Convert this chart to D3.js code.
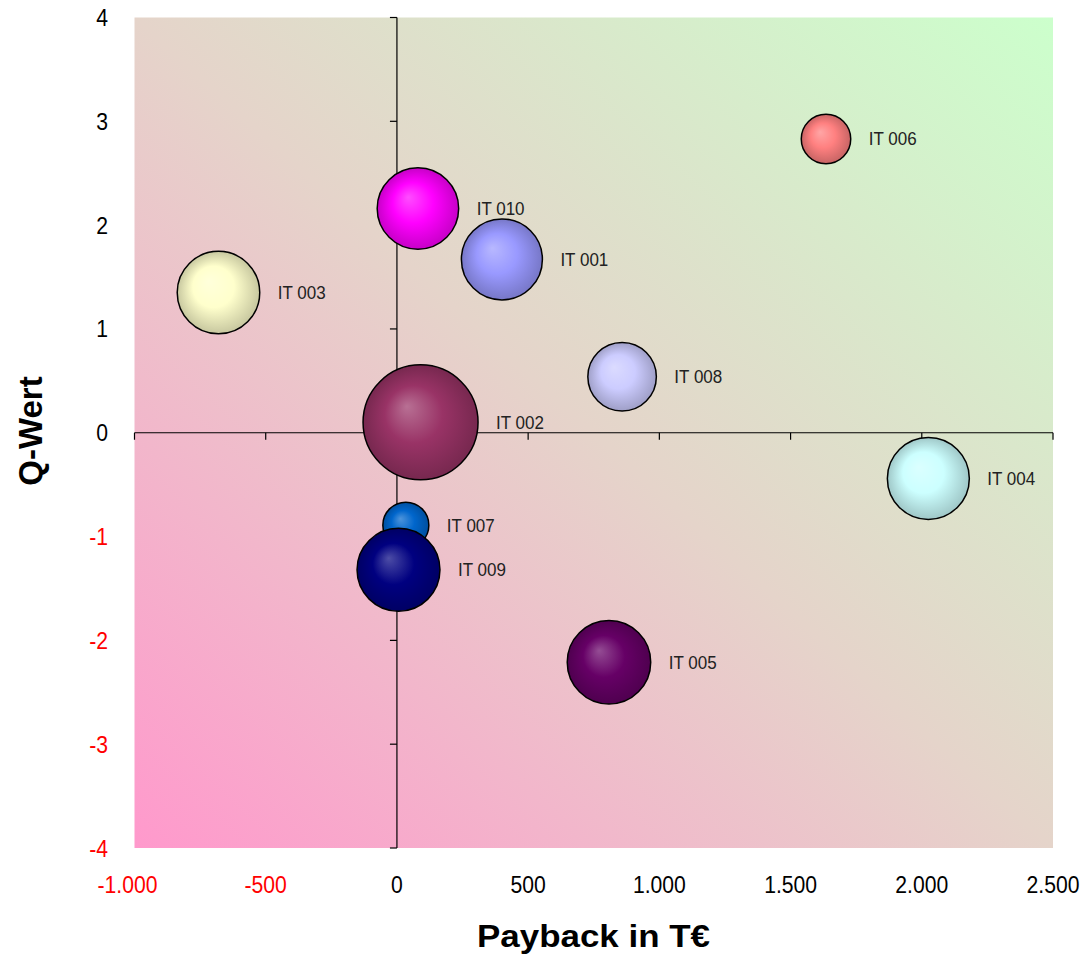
<!DOCTYPE html>
<html>
<head>
<meta charset="utf-8">
<script src="https://cdn.jsdelivr.net/npm/d3@7"></script>
<style>
  html, body { margin: 0; padding: 0; background: #fff; }
  svg { display: block; }
  text { font-family: "Liberation Sans", Arial, sans-serif; }
</style>
</head>
<body>
<svg id="chart" width="1083" height="960"></svg>
<script>
// ---- data ----
const projects = ["IT 001", "IT 002", "IT 003", "IT 004", "IT 005", "IT 006", "IT 007", "IT 008", "IT 009", "IT 010"];
const payback  = [400, 90, -680, 2025, 808, 1635, 34, 858, 6, 80];          // T€
const qWert    = [1.67, 0.10, 1.35, -0.44, -2.21, 2.83, -0.89, 0.54, -1.32, 2.16];
const volume   = [49.6, 100, 51.5, 50.8, 52.7, 18.5, 16, 35.5, 52, 50.2];   // bubble size
const colors   = ["#9999ff", "#993366", "#ffffcc", "#ccffff", "#660066", "#ff8080", "#0066cc", "#ccccff", "#000080", "#ff00ff"];
const xTicks   = [-1000, -500, 0, 500, 1000, 1500, 2000, 2500];
const yTicks   = [-4, -3, -2, -1, 0, 1, 2, 3, 4];
const xTitle   = "Payback in T€";
const yTitle   = "Q-Wert";

// ---- layout ----
const plot = { left: 134.5, right: 1053, top: 17.5, bottom: 848 };
const svg = d3.select("#chart");

const x = d3.scaleLinear().domain([-1000, 2500]).range([plot.left, plot.right]);
const y = d3.scaleLinear().domain([-4, 4]).range([plot.bottom, plot.top]);
const r = d3.scaleSqrt().domain([0, d3.max(volume)]).range([0, 57.5]);

const de = d3.formatLocale({ decimal: ",", thousands: ".", grouping: [3], currency: ["", "€"], minus: "-" });
const fmtX = de.format(",d");
const fmtY = de.format("d");

const defs = svg.append("defs");

// background gradient
const bg = defs.append("linearGradient").attr("id", "bg")
  .attr("x1", 0).attr("y1", 1).attr("x2", 1).attr("y2", 0);
bg.append("stop").attr("offset", 0).attr("stop-color", "#ff99cc");
bg.append("stop").attr("offset", 0.5).attr("stop-color", "#e5d4ca");
bg.append("stop").attr("offset", 1).attr("stop-color", "#ccffcc");

svg.append("rect")
  .attr("x", plot.left).attr("y", plot.top)
  .attr("width", plot.right - plot.left).attr("height", plot.bottom - plot.top)
  .attr("fill", "url(#bg)");

// axes
const x0 = x(0), y0 = y(0);
const axisG = svg.append("g").attr("stroke", "#000").attr("stroke-width", 1.2);
axisG.append("line").attr("x1", plot.left).attr("x2", plot.right).attr("y1", y0).attr("y2", y0);
axisG.append("line").attr("x1", x0).attr("x2", x0).attr("y1", plot.top).attr("y2", plot.bottom);
axisG.selectAll(".xt").data(xTicks).join("line")
  .attr("x1", d => x(d)).attr("x2", d => x(d)).attr("y1", y0).attr("y2", y0 + 7);
axisG.selectAll(".yt").data(yTicks).join("line")
  .attr("x1", x0 - 7).attr("x2", x0).attr("y1", d => y(d)).attr("y2", d => y(d));

// tick labels (slightly condensed, as in the original)
svg.append("g").selectAll("text").data(xTicks).join("text")
  .attr("transform", d => `translate(${x(d) - (d === -1000 ? 7 : 0)},893) scale(0.9,1)`)
  .attr("text-anchor", "middle")
  .attr("font-size", 23.5)
  .attr("fill", d => d < 0 ? "#ff0000" : "#000")
  .text(d => fmtX(d));

svg.append("g").selectAll("text").data(yTicks).join("text")
  .attr("transform", d => `translate(108,${y(d) + 8.5}) scale(0.9,1)`)
  .attr("text-anchor", "end")
  .attr("font-size", 23.5)
  .attr("fill", d => d < 0 ? "#ff0000" : "#000")
  .text(d => fmtY(d));

// titles
svg.append("text")
  .attr("x", 593.5).attr("y", 947)
  .attr("text-anchor", "middle")
  .attr("font-size", 31).attr("font-weight", "bold")
  .attr("textLength", 233).attr("lengthAdjust", "spacingAndGlyphs")
  .text(xTitle);

svg.append("text")
  .attr("transform", "translate(42,431) rotate(-90)")
  .attr("text-anchor", "middle")
  .attr("font-size", 33).attr("font-weight", "bold")
  .text(yTitle);

// bubbles
const data = projects.map((p, i) => ({ name: p, x: payback[i], y: qWert[i], s: volume[i], c: colors[i], i }));

data.forEach(d => {
  const g = defs.append("radialGradient").attr("id", "g" + d.i)
    .attr("cx", 0.5).attr("cy", 0.5).attr("r", 0.5).attr("fx", 0.38).attr("fy", 0.36);
  g.append("stop").attr("offset", 0).attr("stop-color", d3.interpolateRgb(d.c, "#ffffff")(0.3));
  g.append("stop").attr("offset", 0.5).attr("stop-color", d.c);
  g.append("stop").attr("offset", 1).attr("stop-color", d3.color(d.c).darker(0.7).formatHex());
});

const bub = svg.append("g");
bub.selectAll("circle").data(data).join("circle")
  .attr("cx", d => x(d.x)).attr("cy", d => y(d.y)).attr("r", d => r(d.s))
  .attr("fill", d => "url(#g" + d.i + ")")
  .attr("stroke", "#000").attr("stroke-width", 1.5);

svg.append("g").selectAll("text").data(data).join("text")
  .attr("transform", d => `translate(${x(d.x) + r(d.s) + 18},${y(d.y) + 6.5}) scale(0.92,1)`)
  .attr("font-size", 18.5)
  .attr("fill", "#222")
  .text(d => d.name);
</script>
</body>
</html>
